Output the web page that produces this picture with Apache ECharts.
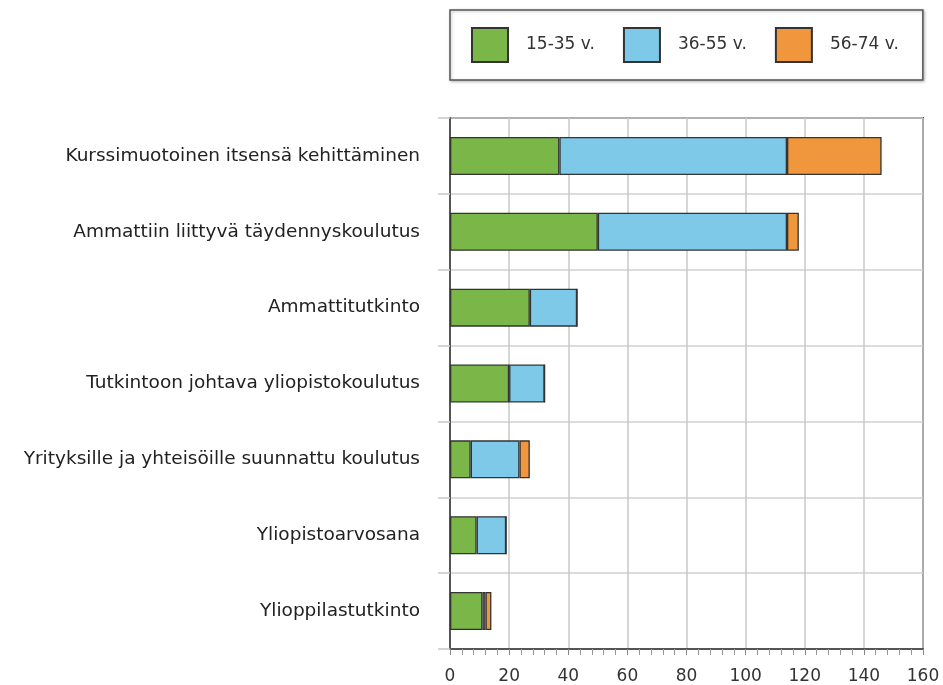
<!DOCTYPE html>
<html>
<head>
<meta charset="utf-8">
<script src="https://cdn.jsdelivr.net/npm/echarts@6/dist/echarts.min.js"></script>
<style>
html,body{margin:0;padding:0;background:#fff;}
#chart{width:943px;height:685px;}
</style>
</head>
<body>
<div id="chart"></div>
<script>
const categories = [
  'Kurssimuotoinen itsensä kehittäminen',
  'Ammattiin liittyvä täydennyskoulutus',
  'Ammattitutkinto',
  'Tutkintoon johtava yliopistokoulutus',
  'Yrityksille ja yhteisöille suunnattu koulutus',
  'Yliopistoarvosana',
  'Ylioppilastutkinto'
];
const seriesNames = ['15-35 v.', '36-55 v.', '56-74 v.'];
const age15_35 = [37, 50, 27, 20, 7, 9, 11];
const age36_55 = [77, 64, 16, 12, 16.5, 10, 1];
const age56_74 = [32, 4, 0, 0, 3.5, 0, 2];
const colors = ['#7ab648', '#7ec8e8', '#f0963c'];

const FONT = 'DejaVu Sans';
const chart = echarts.init(document.getElementById('chart'), null, {renderer: 'canvas'});

function mk(name, data, color) {
  return {
    name: name,
    type: 'bar',
    stack: 'total',
    data: data,
    barWidth: 38,
    itemStyle: { color: color, borderColor: '#333', borderWidth: 1.3 },
    emphasis: { disabled: true },
    animation: false
  };
}

chart.setOption({
  animation: false,
  backgroundColor: '#fff',
  legend: {
    left: 450,
    top: 10,
    padding: [17, 24, 17, 21],
    itemWidth: 36,
    itemHeight: 34,
    itemGap: 28,
    icon: 'rect',
    borderColor: '#555',
    borderWidth: 1.5,
    shadowBlur: 3,
    shadowColor: 'rgba(0,0,0,0.25)',
    shadowOffsetX: 1,
    shadowOffsetY: 1,
    backgroundColor: '#fff',
    selectedMode: false,
    textStyle: { fontFamily: FONT, fontSize: 17, color: '#333', padding: [0, 0, 0, 13] },
    data: seriesNames
  },
  grid: {
    left: 450, right: 20, top: 118, bottom: 36,
    show: true, borderColor: '#555', borderWidth: 2, backgroundColor: 'transparent'
  },
  xAxis: {
    type: 'value',
    min: 0, max: 160, interval: 20,
    axisLine: { show: true, lineStyle: { color: '#555', width: 2 } },
    axisTick: { show: true, length: 6, lineStyle: { color: '#888', width: 1 } },
    minorTick: { show: true, splitNumber: 5, length: 6, lineStyle: { color: '#999', width: 1 } },
    splitLine: { show: true, lineStyle: { color: '#c8c8c8', width: 1.5 } },
    axisLabel: { fontFamily: FONT, fontSize: 17, color: '#333', margin: 19 }
  },
  yAxis: {
    type: 'category',
    inverse: true,
    data: categories,
    axisLine: { show: true, lineStyle: { color: '#555', width: 2 } },
    axisTick: { show: true, length: 12, lineStyle: { color: '#c8c8c8', width: 1.5 } },
    splitLine: { show: true, lineStyle: { color: '#d0d0d0', width: 1.5 } },
    axisLabel: { fontFamily: FONT, fontSize: 18.5, color: '#222', margin: 30 }
  },
  series: [
    mk(seriesNames[0], age15_35, colors[0]),
    mk(seriesNames[1], age36_55, colors[1]),
    mk(seriesNames[2], age56_74, colors[2])
  ]
});
</script>
</body>
</html>
